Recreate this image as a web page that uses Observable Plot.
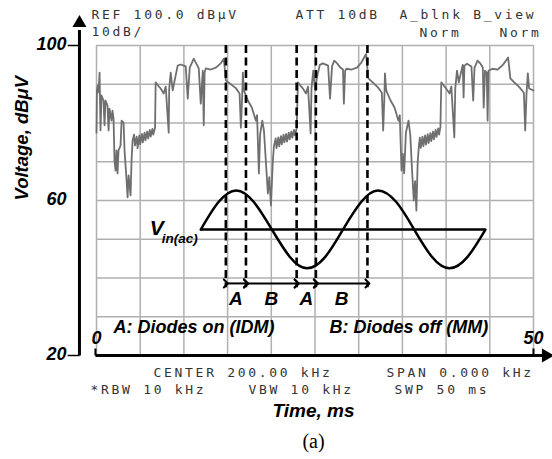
<!DOCTYPE html>
<html>
<head>
<meta charset="utf-8">
<script src="https://cdn.jsdelivr.net/npm/d3@7"></script>
<script src="https://cdn.jsdelivr.net/npm/@observablehq/plot@0.6"></script>
<style>
  html, body { margin: 0; padding: 0; background: #fff; }
  g[font-family^="DejaVu Sans Mono"] text { letter-spacing: 2.7px; }
</style>
</head>
<body>
<div id="chart"></div>
<script>
// ---------------- data ----------------
const gridTimes = [0, 5, 10, 15, 20, 25, 30, 35, 40, 45, 50];          // ms
const gridVolts = [20, 30, 40, 50, 60, 70, 80, 90, 100];             // dBµV
const timeTickLabels = [0, 50];
const voltTickLabels = [20, 60, 100];

// measured trace (time ms, level dBµV)
const traceT = [
  0, 0.05, 0.15, 0.25, 0.35, 0.46, 0.57, 0.8, 0.92, 1.03, 1.26, 1.38, 1.49, 1.72, 1.83, 1.95, 2.06, 2.18, 2.29, 2.41, 2.52, 2.75, 2.87, 3.1, 3.21, 3.44, 3.56, 3.67, 3.9, 4.01, 4.13,
  4.3, 4.4, 4.6, 4.7, 4.9, 5.0, 5.2, 5.3, 5.5, 5.6, 5.8, 5.9, 6.1, 6.2, 6.4, 6.5, 6.7,
  6.77, 7.07, 7.34, 7.69, 7.92, 8.26, 8.32, 8.49, 8.72, 9.06, 9.29, 9.64, 10.21, 10.44, 10.67, 11.13, 11.36, 11.7, 11.93, 12.16, 12.27, 12.37, 12.5, 13.08, 13.65, 14.22, 14.57,
  14.8, 15.37, 15.94, 16.37, 16.52, 16.67, 16.75, 16.86, 17.32, 17.77, 18.24, 18.37, 18.58, 18.72, 18.97, 19.16, 19.38, 19.61, 19.77, 19.96, 20.17, 20.3,
  20.5, 20.6, 20.8, 20.9, 21.1, 21.2, 21.4, 21.5, 21.7, 21.8, 22.0, 22.1, 22.3, 22.4, 22.6, 22.7, 22.9,
  23.05, 23.35, 23.62, 23.97, 24.2, 24.5, 24.6, 24.8, 25.0, 25.3, 25.55, 25.9, 26.5, 26.72, 26.95, 27.2, 27.45, 27.9, 28.2, 28.3, 28.45, 28.6, 29.2, 29.8, 30.3, 30.85,
  31.1, 31.6, 32.2, 32.65, 32.8, 32.95, 33.0, 33.15, 33.6, 34.1, 34.55, 34.7, 34.9, 35.05, 35.2, 35.4, 35.7, 35.9, 36.1, 36.3, 36.45, 36.6, 36.75, 36.9,
  37.0, 37.1, 37.3, 37.4, 37.6, 37.7, 37.9, 38.0, 38.2, 38.3, 38.5, 38.6, 38.8, 38.9, 39.1, 39.2, 39.35,
  39.45, 39.75, 40.0, 40.4, 40.6, 40.94, 41.05, 41.25, 41.45, 41.7, 41.9, 42.0, 42.1, 42.4, 42.9, 43.1, 43.25, 43.6, 43.9, 44.2, 44.3, 44.45, 44.65, 44.75, 44.85,
  45.3, 45.9, 46.5, 47.1, 47.35, 47.8, 48.4, 48.9, 49.05, 49.2, 49.35, 49.5, 50.0
];
const traceV = [
  77.5, 88.4, 89.7, 87.9, 93.0, 78.1, 87.1, 85.8, 79.4, 85.8, 84.5, 78.1, 83.7, 80.6, 83.2, 81.2, 70.3, 67.7, 72.9, 67.0, 72.9, 74.2, 80.6, 80.1, 72.9, 65.2, 60.8, 66.5, 61.3, 70.3, 75.5,
  77.0, 74.2, 76.5, 73.5, 76.8, 74.5, 77.2, 75.0, 77.5, 75.5, 77.8, 76.0, 78.2, 76.5, 78.5, 77.0, 78.8,
  90.5, 89.6, 88.9, 87.6, 89.4, 77.5, 88.9, 93.0, 88.4, 92.3, 94.8, 95.1, 94.6, 86.3, 94.3, 96.6, 95.6, 94.1, 85.0, 93.5, 79.4, 93.0, 94.1, 93.8, 94.3, 95.4, 96.6,
  91.0, 90.0, 89.0, 87.6, 78.8, 87.0, 93.0, 88.4, 85.8, 84.0, 80.6, 82.0, 67.0, 77.0, 80.6, 78.0, 70.0, 61.8, 66.0, 58.7, 70.0, 74.0,
  76.0, 73.5, 76.3, 74.0, 76.6, 74.5, 77.0, 75.0, 77.2, 75.2, 77.5, 75.8, 77.8, 76.2, 78.2, 76.8, 78.6,
  90.5, 89.6, 88.9, 87.6, 89.4, 77.3, 89.0, 93.5, 88.6, 92.6, 95.0, 95.4, 94.8, 86.3, 94.6, 96.1, 95.6, 94.3, 93.8, 85.0, 93.5, 94.0, 93.8, 94.3, 95.6, 97.8,
  91.5, 90.5, 89.2, 87.8, 78.1, 87.5, 92.8, 88.4, 86.0, 84.0, 80.6, 82.0, 67.7, 72.0, 67.0, 77.5, 80.6, 77.0, 68.0, 60.0, 65.0, 57.4, 70.0, 74.5,
  76.2, 73.6, 76.5, 74.0, 76.8, 74.4, 77.1, 74.8, 77.4, 75.3, 77.8, 75.8, 78.2, 76.4, 78.6, 77.0, 79.0,
  90.5, 89.6, 88.9, 87.6, 89.4, 76.3, 89.0, 93.5, 90.5, 93.0, 95.0, 86.6, 94.8, 95.3, 94.6, 85.8, 94.3, 96.1, 95.4, 94.3, 84.0, 93.5, 93.0, 80.6, 93.5,
  94.0, 93.8, 95.0, 96.9, 91.5, 90.5, 89.2, 87.8, 78.1, 87.5, 92.8, 88.9, 88.4
];

// schematic input sine V_in(ac), read at eighth-period points
const sineT = [11.93, 13.96, 16.0, 18.0, 20.07, 22.13, 24.08, 26.15, 28.2, 30.28, 32.2, 34.3, 36.35, 38.4, 40.37, 42.43, 44.5];
const sineV = [52.5, 59.6, 62.6, 59.6, 52.5, 45.4, 42.5, 45.4, 52.5, 59.6, 62.6, 59.6, 52.5, 45.4, 42.5, 45.4, 52.5];
const vinLevel = 52.5;

// diode on/off boundaries (ms) and region labels
const boundaryT = [14.8, 17.1, 22.9, 25.1, 31.0];
const regionLabels = ["A", "B", "A", "B"];
const legendTexts = ["A: Diodes on (IDM)", "B: Diodes off (MM)"];

// instrument annotation texts
const headerTexts = ["REF 100.0 dBμV", "10dB/", "ATT 10dB", "A_blnk B_view", "Norm", "Norm"];
const footerTexts = ["CENTER 200.00 kHz", "SPAN 0.000 kHz", "*RBW 10 kHz", "VBW 10 kHz", "SWP 50 ms"];
const yTitle = "Voltage, dBμV";
const xTitle = "Time, ms";
const caption = "(a)";

// ---------------- layout ----------------
const W = 552, H = 459;
const M = {left: 96, right: 19, top: 45, bottom: 104};
const headerPos = [[91, 14], [91, 31], [295, 14], [399, 14], [419, 32], [499, 32]];
const footerPos = [[153, 372], [386, 372], [90, 389], [248, 389], [394, 389]];
const legendPos = [[113, 327], [329, 327]];

const sansBI = {fontFamily: "Liberation Sans, Arial, sans-serif", fontWeight: "bold", fontStyle: "italic", fill: "black"};
const mono = {fontFamily: "DejaVu Sans Mono, monospace", fontSize: 13, fill: "#333333"};

function label(text, px, py, opts) {
  return Plot.text([text], {
    text: d => d, frameAnchor: "top-left",
    dx: px - M.left, dy: py - M.top,
    textAnchor: "start", lineAnchor: "middle", ...opts
  });
}

const trace = traceT.map((t, i) => ({t, v: traceV[i]}));
const sine = sineT.map((t, i) => ({t, v: sineV[i]}));
const segments = boundaryT.slice(0, -1).map((t, i) => ({t1: t, t2: boundaryT[i + 1], label: regionLabels[i]}));

const axisT = -1.95;     // where the drawn y-axis line sits (left of grid)
const arrowY = 38.6;     // level of the A/B arrow line
const labelY = 34.7;

const marks = [
  Plot.gridX(gridTimes, {stroke: "#b0b0b0", strokeOpacity: 1, strokeWidth: 1.5}),
  Plot.gridY(gridVolts, {stroke: "#b0b0b0", strokeOpacity: 1, strokeWidth: 1.5}),
  Plot.line(trace, {x: "t", y: "v", stroke: "#6f6f6f", strokeWidth: 1.8}),
  Plot.ruleX(boundaryT, {x: d => d, y1: 100, y2: 37.5, stroke: "black", strokeWidth: 2.6, strokeDasharray: "8,4.5"}),
  Plot.ruleY([vinLevel], {y: d => d, x1: sineT[0], x2: sineT[sineT.length - 1], stroke: "black", strokeWidth: 2.5}),
  Plot.line(sine, {x: "t", y: "v", curve: "natural", stroke: "black", strokeWidth: 2.5}),
  Plot.link(segments, {x1: "t1", x2: "t2", y1: arrowY, y2: arrowY, stroke: "black", strokeWidth: 2, markerStart: "arrow", markerEnd: "arrow"}),
  Plot.text(segments, {x: d => (d.t1 + d.t2) / 2, y: labelY, text: "label", fontSize: 19, ...sansBI}),
  // V_in(ac)
  Plot.text(["V"], {x: sineT[0], y: vinLevel, text: d => d, textAnchor: "end", dx: -37, dy: -1, fontSize: 21, ...sansBI}),
  Plot.text(["in(ac)"], {x: sineT[0], y: vinLevel, text: d => d, textAnchor: "start", dx: -39, dy: 9, fontSize: 13.5, ...sansBI}),
  // legend
  ...legendTexts.map((s, i) => label(s, legendPos[i][0], legendPos[i][1], {fontSize: 18, ...sansBI})),
  // axes lines + arrows
  Plot.link([0], {x1: axisT, x2: axisT, y1: 20, y2: 104, stroke: "black", strokeWidth: 3}),
  Plot.dot([0], {x: axisT, y: 105.8, symbol: "triangle", r: 5.2, fill: "black", stroke: null}),
  Plot.link([100, 20], {x1: axisT - 1.35, x2: axisT, y1: d => d, y2: d => d, stroke: "black", strokeWidth: 1.5}),
  Plot.link([0], {x1: -0.12, x2: 51.0, y1: 20, y2: 20, stroke: "black", strokeWidth: 3}),
  Plot.dot([0], {x: 51.43, y: 20, symbol: "triangle", rotate: 90, r: 5.2, fill: "black", stroke: null}),
  Plot.link([0, 50], {x1: d => d === 0 ? -0.12 : d, x2: d => d === 0 ? -0.12 : d, y1: 20, y2: 21.8, stroke: "black", strokeWidth: 2}),
  // tick labels
  Plot.text(voltTickLabels, {y: d => d, text: d => String(d), frameAnchor: "left", dx: -30, dy: -1, textAnchor: "end", fontSize: 18, ...sansBI}),
  Plot.text(timeTickLabels, {x: d => d, y: 20, text: d => String(d), dy: -17, fontSize: 18, ...sansBI}),
  // axis titles
  Plot.text([yTitle], {text: d => d, frameAnchor: "left", dx: -74, y: 60, rotate: -90, fontSize: 18.5, ...sansBI}),
  label(xTitle, 313, 410, {textAnchor: "middle", fontSize: 19, ...sansBI}),
  label(caption, 313, 441, {textAnchor: "middle", fontSize: 20, fontFamily: "Liberation Serif, Times New Roman, serif", fill: "black"}),
  // instrument texts
  ...headerTexts.map((s, i) => label(s, headerPos[i][0], headerPos[i][1], mono)),
  ...footerTexts.map((s, i) => label(s, footerPos[i][0], footerPos[i][1], mono))
];

const chart = Plot.plot({
  width: W, height: H,
  marginLeft: M.left, marginRight: M.right, marginTop: M.top, marginBottom: M.bottom,
  x: {domain: [0, 50], axis: null},
  y: {domain: [20, 100], axis: null},
  style: {background: "white", overflow: "visible"},
  marks
});
document.getElementById("chart").appendChild(chart);
</script>
</body>
</html>
